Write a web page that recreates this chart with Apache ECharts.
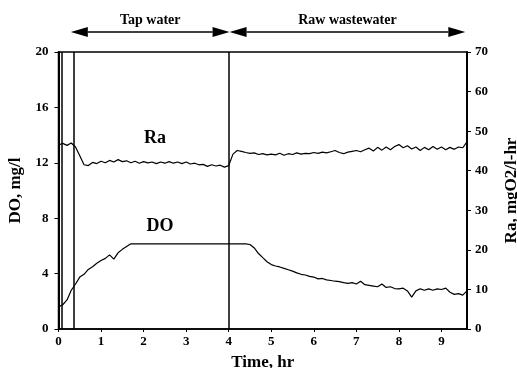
<!DOCTYPE html>
<html>
<head>
<meta charset="utf-8">
<script src="https://cdn.jsdelivr.net/npm/echarts@6/dist/echarts.min.js"></script>
<style>
  html, body { margin: 0; padding: 0; background: #fff; }
  #chart { width: 517px; height: 368px; }
</style>
</head>
<body>
<div id="chart"></div>
<script>
// time, hr
const TIME = [
  0.0, 0.1, 0.2, 0.3, 0.4, 0.5, 0.6, 0.7, 0.8, 0.9,
  1.0, 1.1, 1.2, 1.3, 1.4, 1.5, 1.6, 1.7, 1.8, 1.9,
  2.0, 2.1, 2.2, 2.3, 2.4, 2.5, 2.6, 2.7, 2.8, 2.9,
  3.0, 3.1, 3.2, 3.3, 3.4, 3.5, 3.6, 3.7, 3.8, 3.9,
  4.0, 4.1, 4.2, 4.3, 4.4, 4.5, 4.6, 4.7, 4.8, 4.9,
  5.0, 5.1, 5.2, 5.3, 5.4, 5.5, 5.6, 5.7, 5.8, 5.9,
  6.0, 6.1, 6.2, 6.3, 6.4, 6.5, 6.6, 6.7, 6.8, 6.9,
  7.0, 7.1, 7.2, 7.3, 7.4, 7.5, 7.6, 7.7, 7.8, 7.9,
  8.0, 8.1, 8.2, 8.3, 8.4, 8.5, 8.6, 8.7, 8.8, 8.9,
  9.0, 9.1, 9.2, 9.3, 9.4, 9.5, 9.6
]

// DO, mg/l (left axis)
const DO = [
  1.6, 1.75, 2.1, 2.8, 3.25, 3.75, 3.95, 4.3, 4.5, 4.75,
  4.95, 5.1, 5.35, 5.05, 5.5, 5.75, 5.95, 6.15, 6.15, 6.15,
  6.15, 6.15, 6.15, 6.15, 6.15, 6.15, 6.15, 6.15, 6.15, 6.15,
  6.15, 6.15, 6.15, 6.15, 6.15, 6.15, 6.15, 6.15, 6.15, 6.15,
  6.15, 6.15, 6.15, 6.15, 6.15, 6.1, 5.85, 5.45, 5.15, 4.86,
  4.65, 4.55, 4.48, 4.38, 4.28, 4.18, 4.05, 3.95, 3.9, 3.8,
  3.75, 3.62, 3.65, 3.55, 3.5, 3.45, 3.42, 3.35, 3.3, 3.35,
  3.25, 3.45, 3.2, 3.15, 3.1, 3.05, 3.25, 3.0, 3.05, 2.92,
  2.9, 2.95, 2.75, 2.3, 2.75, 2.9, 2.8, 2.9, 2.8, 2.9,
  2.85, 2.95, 2.65, 2.5, 2.55, 2.45, 2.75
]

// Ra, mgO2/l-hr (right axis)
const RA = [
  46.5, 46.9, 46.4, 47.0, 46.0, 43.8, 41.5, 41.3, 42.1, 41.8,
  42.4, 42.0, 42.6, 42.2, 42.8, 42.3, 42.5, 42.0, 42.4, 41.9,
  42.3, 42.0, 42.2, 41.8, 42.2, 41.9, 42.3, 41.9, 42.2, 41.8,
  42.2, 41.7, 41.9, 41.5, 41.6, 41.1, 41.5, 41.2, 41.4, 40.9,
  41.3, 44.2, 45.1, 44.9, 44.6, 44.4, 44.5, 44.1, 44.3, 44.0,
  44.2, 44.0, 44.4, 43.9, 44.3, 44.1, 44.5, 44.2, 44.4, 44.3,
  44.6, 44.4, 44.7, 44.5, 44.8, 45.1, 44.6, 44.3, 44.7, 44.9,
  45.1, 44.8, 45.3, 45.7, 45.0, 45.9, 45.2, 46.0, 45.3, 46.1,
  46.6, 45.8, 46.3, 45.5, 46.0, 45.1, 45.9, 45.3, 46.1, 45.4,
  46.0, 45.3, 45.9, 45.4, 46.0, 45.8, 47.3
]

// vertical marker lines, hr
const MARKERS = [0.07, 0.35, 4.0]

// phase arrows above the plot
const PHASES = ["Tap water", "Raw wastewater"]
const PHASE_START = [0.29, 4.02]
const PHASE_END = [4.02, 9.56]

const FONT = "Liberation Serif"

const chart = echarts.init(document.getElementById("chart"))

const labelStyle = {
  fontFamily: FONT,
  fontWeight: "bold",
  fontSize: 13,
  color: "#000",
}

const nameStyle = {
  fontFamily: FONT,
  fontWeight: "bold",
  fontSize: 17,
  color: "#000",
}

chart.setOption({
  animation: false,
  backgroundColor: "#fff",
  grid: {
    left: 58.5,
    right: 50,
    top: 52,
    bottom: 39,
    outerBoundsMode: "none",
    containLabel: false,
    show: true,
    borderColor: "#000",
    borderWidth: 1.5,
  },
  xAxis: {
    type: "value",
    min: 0,
    max: 9.6,
    interval: 1,
    name: "Time, hr",
    nameLocation: "middle",
    nameGap: 25,
    nameTextStyle: nameStyle,
    axisLine: { lineStyle: { color: "#000", width: 1.5 } },
    axisTick: { show: true, length: 3, lineStyle: { color: "#000" } },
    axisLabel: { ...labelStyle, margin: 6, showMaxLabel: false },
    splitLine: { show: false },
  },
  yAxis: [
    {
      type: "value",
      min: 0,
      max: 20,
      interval: 4,
      name: "DO, mg/l",
      nameLocation: "middle",
      nameRotate: 90,
      nameGap: 29,
      nameTextStyle: nameStyle,
      axisLine: { show: true, lineStyle: { color: "#000", width: 2 } },
      axisTick: { show: true, length: 4, lineStyle: { color: "#000" } },
      axisLabel: { ...labelStyle, margin: 10 },
      splitLine: { show: false },
    },
    {
      type: "value",
      min: 0,
      max: 70,
      interval: 10,
      position: "right",
      name: "Ra, mgO2/l-hr",
      nameLocation: "middle",
      nameRotate: 90,
      nameGap: 36,
      nameTextStyle: nameStyle,
      axisLine: { show: true, lineStyle: { color: "#000", width: 2 } },
      axisTick: { show: true, length: 4, lineStyle: { color: "#000" } },
      axisLabel: { ...labelStyle, margin: 8 },
      splitLine: { show: false },
    },
  ],
  series: [
    {
      name: "DO",
      type: "line",
      yAxisIndex: 0,
      data: TIME.map((t, i) => [t, DO[i]]),
      showSymbol: false,
      lineStyle: { color: "#000", width: 1.2 },
      markLine: {
        silent: true,
        symbol: "none",
        label: { show: false },
        lineStyle: { color: "#000", width: 1.5, type: "solid" },
        data: MARKERS.map((m) => ({ xAxis: m })),
      },
    },
    {
      name: "Ra",
      type: "line",
      yAxisIndex: 1,
      data: TIME.map((t, i) => [t, RA[i]]),
      showSymbol: false,
      lineStyle: { color: "#000", width: 1.2 },
    },
  ],
})

// arrows + phase labels, placed from the x scale
const arrowY = 32
const headLen = 17
const headHalf = 5
const graphics = []
PHASES.forEach((label, i) => {
  const x1 = chart.convertToPixel({ xAxisIndex: 0 }, PHASE_START[i])
  const x2 = chart.convertToPixel({ xAxisIndex: 0 }, PHASE_END[i])
  graphics.push({
    type: "line",
    shape: { x1: x1 + headLen, y1: arrowY, x2: x2 - headLen, y2: arrowY },
    style: { stroke: "#000", lineWidth: 1.5 },
  })
  graphics.push({
    type: "polygon",
    shape: {
      points: [
        [x1, arrowY],
        [x1 + headLen, arrowY - headHalf],
        [x1 + headLen, arrowY + headHalf],
      ],
    },
    style: { fill: "#000" },
  })
  graphics.push({
    type: "polygon",
    shape: {
      points: [
        [x2, arrowY],
        [x2 - headLen, arrowY - headHalf],
        [x2 - headLen, arrowY + headHalf],
      ],
    },
    style: { fill: "#000" },
  })
  graphics.push({
    type: "text",
    x: (x1 + x2) / 2,
    y: 20,
    style: {
      text: label,
      fontFamily: FONT,
      fontWeight: "bold",
      fontSize: 14,
      fill: "#000",
      align: "center",
      verticalAlign: "middle",
    },
  })
})

// series labels inside the plot
graphics.push({
  type: "text",
  x: 155,
  y: 138,
  style: { text: "Ra", fontFamily: FONT, fontWeight: "bold", fontSize: 18, fill: "#000", align: "center", verticalAlign: "middle" },
})
graphics.push({
  type: "text",
  x: 160,
  y: 226,
  style: { text: "DO", fontFamily: FONT, fontWeight: "bold", fontSize: 18, fill: "#000", align: "center", verticalAlign: "middle" },
})

chart.setOption({ graphic: graphics })
</script>
</body>
</html>
